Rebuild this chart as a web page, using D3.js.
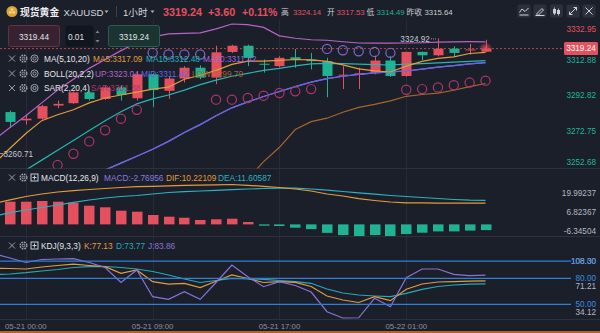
<!DOCTYPE html>
<html>
<head>
<meta charset="utf-8">
<title>现货黄金 XAUUSD 1小时</title>
<script src="https://cdn.jsdelivr.net/npm/d3@7/dist/d3.min.js"></script>
<style>
  html, body { margin: 0; padding: 0; background: #1b1f2a; overflow: hidden; }
  svg { display: block; font-family: "Liberation Sans", Arial, "Noto Sans CJK SC", sans-serif; }
</style>
</head>
<body>
<svg id="chart" width="600" height="333"></svg>
<script>
// ---------- hourly bars (first bar sits just left of the visible window) ----------
const times = ["05-20 22:00","05-20 23:00","05-21 00:00","05-21 01:00","05-21 02:00","05-21 03:00","05-21 04:00",
  "05-21 06:00","05-21 07:00","05-21 08:00","05-21 09:00","05-21 10:00","05-21 11:00","05-21 12:00","05-21 13:00",
  "05-21 14:00","05-21 15:00","05-21 16:00","05-21 17:00","05-21 18:00","05-21 19:00","05-21 20:00","05-21 21:00",
  "05-21 22:00","05-21 23:00","05-22 00:00","05-22 01:00","05-22 02:00","05-22 03:00","05-22 04:00","05-22 06:00","05-22 07:00"];
const open  = [3268.00,3283.86,3279.25,3280.18,3287.49,3288.81,3294.85,3291.17,3297.60,3291.56,3304.91,3295.73,3302.55,3308.59,3303.09,3317.38,3320.84,3310.79,3309.47,3314.41,3313.15,3312.22,3304.36,3304.52,3305.84,3312.60,3303.97,3317.38,3315.51,3319.19,3318.48,3317.53];
const high  = [3285.20,3284.74,3282.38,3287.87,3290.24,3295.29,3295.73,3298.48,3298.48,3305.84,3305.46,3303.64,3309.47,3309.85,3320.84,3321.39,3321.39,3313.15,3314.96,3319.03,3316.83,3314.08,3309.47,3308.59,3315.35,3314.96,3317.60,3317.55,3324.92,3320.46,3321.94,3324.14];
const low   = [3260.71,3275.07,3276.89,3279.63,3286.06,3288.42,3290.24,3290.62,3290.24,3290.24,3286.61,3291.17,3300.35,3302.16,3299.41,3316.83,3309.47,3305.84,3308.75,3308.59,3307.66,3292.11,3296.67,3296.67,3304.91,3303.50,3303.64,3312.77,3314.96,3314.63,3315.90,3317.20];
const close = [3283.90,3278.37,3280.18,3287.16,3288.42,3294.85,3291.17,3297.60,3293.37,3304.91,3296.12,3302.55,3308.59,3303.09,3317.16,3320.84,3314.08,3310.24,3314.08,3313.15,3312.22,3303.97,3304.69,3305.46,3312.60,3303.97,3317.38,3315.51,3319.19,3316.83,3318.75,3319.24];

// ---------- overlays ----------
const ma5   = [3255.20,3263.67,3271.92,3279.07,3282.37,3285.12,3288.97,3291.72,3293.37,3295.02,3296.67,3297.77,3302.17,3304.37,3307.12,3310.42,3312.24,3312.24,3312.62,3313.17,3312.90,3312.07,3310.15,3307.95,3306.85,3306.19,3309.49,3312.07,3313.80,3314.60,3316.50,3317.09];
const ma10  = [3237.20,3244.42,3251.57,3257.07,3262.57,3268.07,3273.57,3279.07,3284.02,3288.42,3291.17,3293.37,3296.12,3299.15,3301.62,3303.82,3305.47,3307.12,3308.22,3309.60,3310.70,3311.00,3310.90,3310.60,3310.30,3310.10,3310.60,3310.90,3311.30,3311.70,3312.10,3312.48];
const bollMid = [3224.60,3228.47,3232.32,3236.17,3240.02,3243.87,3247.72,3251.57,3255.42,3259.27,3263.12,3267.52,3272.47,3276.87,3281.82,3286.22,3289.52,3292.54,3295.30,3298.05,3300.52,3302.45,3303.82,3304.92,3305.75,3306.30,3306.74,3307.80,3308.90,3309.80,3310.70,3311.42];
const bollUp  = [3268.50,3275.22,3281.82,3288.97,3296.12,3302.17,3308.22,3313.17,3318.12,3322.52,3325.82,3327.47,3327.75,3328.02,3330.22,3332.95,3332.60,3331.05,3326.37,3325.00,3324.17,3323.90,3323.07,3322.36,3322.25,3322.25,3322.36,3322.50,3322.80,3323.00,3323.10,3323.04];
const bollLow = [3180.70,3181.72,3182.82,3183.37,3183.92,3185.57,3187.22,3189.97,3192.72,3196.02,3200.42,3207.57,3217.19,3225.72,3233.42,3239.47,3246.50,3256.24,3264.22,3274.12,3278.52,3280.44,3283.74,3286.49,3288.14,3290.07,3292.65,3293.65,3294.47,3296.00,3298.00,3299.79];
const sar     = [3226.20,3233.42,3240.57,3247.72,3254.32,3260.64,3267.52,3273.73,3280.17,3285.12,3316.86,3315.92,3315.92,3315.92,3290.78,3290.78,3291.72,3292.99,3294.47,3295.41,3296.67,3319.06,3318.29,3317.74,3317.41,3316.86,3296.29,3296.67,3297.61,3298.80,3300.30,3301.38];

// ---------- MACD(12,26,9) ----------
const dif  = [10.10,11.80,13.47,14.68,15.64,16.27,16.85,17.34,17.82,18.21,18.40,18.64,18.83,18.98,19.12,19.27,18.88,18.40,17.82,17.09,16.13,14.68,13.71,12.41,11.54,10.81,10.42,10.34,10.30,10.27,10.24,10.22109];
const dea  = [3.90,5.64,6.95,8.15,9.36,10.67,11.78,12.74,13.47,13.95,14.68,15.40,15.79,16.13,16.47,16.80,17.09,17.34,17.48,17.48,17.09,16.51,15.89,15.26,14.58,13.95,13.47,12.99,12.50,12.02,11.68,11.60587];
const macd = [12.00,10.96,10.96,11.29,10.96,10.47,9.02,8.25,6.61,6.12,4.53,3.71,3.22,2.11,2.45,2.74,1.15,-0.64,-0.79,-1.61,-2.30,-4.10,-5.14,-5.80,-5.14,-6.00,-4.66,-4.03,-3.40,-3.40,-3.00,-2.76956];

// ---------- KDJ(9,3,3) ----------
const kLine = [91.72,91.49,90.91,93.23,94.97,96.47,94.97,93.58,85.93,89.75,76.19,73.29,74.34,69.47,76.66,83.96,79.90,75.26,76.19,75.50,70.63,59.62,54.98,52.08,58.81,54.17,67.38,73.53,75.84,76.19,76.77,77.13];
const dLine = [84.54,85.12,86.62,88.59,90.33,92.65,93.58,93.81,92.65,90.91,88.01,83.96,79.32,75.26,77.58,80.13,79.55,78.97,77.58,76.19,74.34,67.73,63.10,60.78,59.62,58.81,62.75,67.38,70.63,72.37,73.29,73.77];
const jLine = [108.30,103.66,98.44,101.92,102.50,102.85,98.44,92.65,75.26,89.75,58.81,55.79,64.60,55.79,75.26,95.55,81.99,70.40,76.19,71.79,64.25,41.42,34.12,34.40,56.95,47.22,80.83,90.91,90.91,84.77,83.15,83.86];

// ---------- axis values ----------
const priceTicks = [3332.95, 3312.88, 3292.82, 3272.75, 3252.68];
const macdTicks  = [19.99237, 6.82367, -6.34504];
const kdjTicks   = [108.30, 71.21, 34.12];
const kdjLevels  = [100, 80, 50];
const timeTicks  = ["05-21 00:00", "05-21 09:00", "05-21 17:00", "05-22 01:00"];

// ---------- quote header ----------
const quoteName = "现货黄金", quoteSymbol = "XAUUSD", quotePeriod = "1小时";
const quoteChange = "+3.60", quotePct = "+0.11%";
const dayHigh = 3324.14, dayOpen = 3317.53, dayLow = 3314.49, prevClose = 3315.64;
const askPrice = 3319.44, bidPrice = 3319.24, lotSize = "0.01";

// ---------- drawing ----------
const C = {
  bg: "#1b1f2a", up: "#e5505e", down: "#1fb394",
  ma5: "#e39b3d", ma10: "#27b4b2", ma20: "#9a6cd9",
  bUp: "#b863c6", bMid: "#6366e3", bLow: "#a5652c",
  sarBelow: "#b0356b", sarAbove: "#7c68d0",
  dif: "#e39b3d", dea: "#2cb2c0", macdTxt: "#8c77e0",
  k: "#e39b3d", d: "#22aabb", j: "#8a72d8", level: "#2f7fd4", levelTxt: "#3d8be0",
  grid: "#262b37", sep: "#2c313d", text: "#d3d6dc", muted: "#9aa0ab"
};
const last = close.length - 1;
const svg = d3.select("#chart");
svg.append("rect").attr("width", 600).attr("height", 333).attr("fill", C.bg);

const idx = d3.range(times.length);
const x = d3.scaleLinear().domain([0, times.length - 1]).range([-5.85, 485.5]);
const yMain = d3.scaleLinear().domain([priceTicks[4], priceTicks[0]]).range([168, 24]);
const yMacd = d3.scaleLinear().domain([macdTicks[2], macdTicks[0]]).range([237.5, 183]);
const yKdj  = d3.scaleLinear().domain([kdjTicks[2], kdjTicks[0]]).range([318, 254]);
const macdLabelY = d3.scaleLinear().domain([macdTicks[2], macdTicks[0]]).range([231, 193]);
const kdjLabelY  = d3.scaleLinear().domain([kdjTicks[2], kdjTicks[0]]).range([312.5, 261]);

const panels = { main: [20, 168.5], macd: [169, 236], kdj: [237, 319] };
const defs = svg.append("defs");
Object.entries(panels).forEach(([name, [t, b]]) => {
  defs.append("clipPath").attr("id", "clip-" + name)
    .append("rect").attr("x", 0).attr("y", t).attr("width", 566).attr("height", b - t);
});
const glow = defs.append("radialGradient").attr("id", "glow");
glow.append("stop").attr("offset", "0%").attr("stop-color", C.up).attr("stop-opacity", 0.85);
glow.append("stop").attr("offset", "100%").attr("stop-color", C.up).attr("stop-opacity", 0);

// vertical time grid
const tickIdx = timeTicks.map(t => times.indexOf(t));
Object.values(panels).forEach(([t, b]) => {
  svg.append("g").selectAll("line").data(tickIdx).join("line")
    .attr("x1", i => Math.round(x(i)) + 0.5).attr("x2", i => Math.round(x(i)) + 0.5)
    .attr("y1", t).attr("y2", b).attr("stroke", C.grid).attr("stroke-width", 1);
});
// panel separators
[168.5, 236.5, 319.5].forEach(y => svg.append("line").attr("x1", 0).attr("x2", 600)
  .attr("y1", y).attr("y2", y).attr("stroke", C.sep).attr("stroke-width", 1));

// ===== main panel =====
const gMain = svg.append("g").attr("clip-path", "url(#clip-main)");
const isUp = i => close[i] >= open[i];
gMain.selectAll("line.wick").data(idx).join("line").attr("class", "wick")
  .attr("x1", i => Math.round(x(i)) + 0.5).attr("x2", i => Math.round(x(i)) + 0.5)
  .attr("y1", i => yMain(high[i])).attr("y2", i => yMain(low[i]))
  .attr("stroke", i => isUp(i) ? C.up : C.down).attr("stroke-width", 1);
gMain.selectAll("rect.body").data(idx).join("rect").attr("class", "body")
  .attr("x", i => Math.round(x(i)) - 4.5).attr("width", 10)
  .attr("y", i => yMain(Math.max(open[i], close[i])))
  .attr("height", i => Math.max(1, Math.abs(yMain(open[i]) - yMain(close[i]))))
  .attr("fill", i => isUp(i) ? C.up : C.down);

const lineMain = d3.line().x((d, i) => x(i)).y(d => yMain(d));
[[bollLow, C.bLow], [bollUp, C.bUp], [bollMid, C.ma20], [bollMid, C.bMid], [ma10, C.ma10], [ma5, C.ma5]]
  .forEach(([s, col]) => gMain.append("path").datum(s).attr("d", lineMain)
    .attr("fill", "none").attr("stroke", col).attr("stroke-width", 1.2));

gMain.selectAll("circle.sar").data(idx).join("circle").attr("class", "sar")
  .attr("cx", i => x(i)).attr("cy", i => yMain(sar[i])).attr("r", 4.6)
  .attr("fill", "none").attr("stroke-width", 1.2)
  .attr("stroke", i => sar[i] > close[i] ? C.sarAbove : C.sarBelow);

// last bar glow
gMain.append("ellipse").attr("cx", x(last)).attr("cy", yMain(close[last]) - 1)
  .attr("rx", 7).attr("ry", 5).attr("fill", "url(#glow)");

// current price line
svg.append("line").attr("x1", 0).attr("x2", 564)
  .attr("y1", yMain(close[last])).attr("y2", yMain(close[last]))
  .attr("stroke", C.up).attr("stroke-dasharray", "2,2").attr("stroke-opacity", 0.75);

function label(g, tx, ty, s, o = {}) {
  return g.append("text").attr("x", tx).attr("y", ty).text(s)
    .attr("fill", o.fill || C.text).attr("font-size", o.size || 8.3)
    .attr("font-weight", o.weight || "normal").attr("text-anchor", o.anchor || "start")
    .attr("dominant-baseline", "central");
}
const gTxt = svg.append("g");

// max / min marks
const hiIdx = d3.maxIndex(high), loIdx = d3.minIndex(low);
svg.append("line").attr("x1", x(hiIdx) - 7).attr("x2", x(hiIdx) - 1)
  .attr("y1", yMain(high[hiIdx]) + 0.5).attr("y2", yMain(high[hiIdx]) + 0.5)
  .attr("stroke", "#9aa0ab").attr("stroke-dasharray", "1,1");
label(gTxt, x(hiIdx) - 8, yMain(high[hiIdx]) + 1.5, high[hiIdx].toFixed(2), { fill: "#c3c7cf", size: 8.2, anchor: "end" });
svg.append("line").attr("x1", 0).attr("x2", 3)
  .attr("y1", yMain(low[loIdx])).attr("y2", yMain(low[loIdx])).attr("stroke", "#9aa0ab");
label(gTxt, 3.5, yMain(low[loIdx]) + 0.5, low[loIdx].toFixed(2), { fill: "#c3c7cf", size: 8.2 });

// price axis
priceTicks.forEach(v => {
  const ty = Math.min(162.5, Math.max(29.5, yMain(v)));
  label(gTxt, 596, ty, v.toFixed(2), { fill: v > prevClose ? C.up : C.down, size: 8.2, anchor: "end" });
});
svg.append("rect").attr("x", 564).attr("y", yMain(close[last]) - 6.5).attr("width", 34).attr("height", 13)
  .attr("rx", 1.5).attr("fill", C.up);
label(gTxt.raise(), 581, yMain(close[last]), close[last].toFixed(2), { fill: "#ffffff", size: 8.2, anchor: "middle" });

// ===== MACD panel =====
const gMacd = svg.append("g").attr("clip-path", "url(#clip-macd)");
gMacd.selectAll("rect").data(idx).join("rect")
  .attr("x", i => Math.round(x(i)) - 5).attr("width", 10.5)
  .attr("y", i => yMacd(Math.max(0, macd[i])))
  .attr("height", i => Math.max(1, Math.abs(yMacd(macd[i]) - yMacd(0))))
  .attr("fill", i => macd[i] >= 0 ? C.up : C.down);
const lineMacd = d3.line().x((d, i) => x(i)).y(d => yMacd(d));
[[dea, C.dea], [dif, C.dif]].forEach(([s, col]) => gMacd.append("path").datum(s).attr("d", lineMacd)
  .attr("fill", "none").attr("stroke", col).attr("stroke-width", 1.2));
macdTicks.forEach(v => label(gTxt, 596, macdLabelY(v), v.toFixed(5), { fill: "#b4b8c1", size: 8.2, anchor: "end" }));

// ===== KDJ panel =====
const gKdj = svg.append("g").attr("clip-path", "url(#clip-kdj)");
kdjLevels.forEach(v => svg.append("line").attr("x1", 0).attr("x2", 571)
  .attr("y1", yKdj(v)).attr("y2", yKdj(v)).attr("stroke", C.level).attr("stroke-width", 1.2));
const lineKdj = d3.line().x((d, i) => x(i)).y(d => yKdj(d));
[[dLine, C.d], [kLine, C.k], [jLine, C.j]].forEach(([s, col]) => gKdj.append("path").datum(s).attr("d", lineKdj)
  .attr("fill", "none").attr("stroke", col).attr("stroke-width", 1.2));
kdjTicks.forEach(v => label(gTxt, 596, kdjLabelY(v), v.toFixed(2), { fill: "#b4b8c1", size: 8.2, anchor: "end" }));
kdjLevels.forEach(v => label(gTxt, 596, yKdj(v), v.toFixed(2), { fill: C.levelTxt, size: 8.2, anchor: "end" }));

// time axis
tickIdx.forEach((i, k) => label(gTxt, x(i), 326, timeTicks[k], { fill: "#8c919c", size: 7.8, anchor: "middle" }));
svg.append("rect").attr("x", 0).attr("y", 331).attr("width", 600).attr("height", 2).attr("fill", "#b4622c");

// ===== legends =====
const gLeg = svg.append("g");
function xIcon(cx, cy) {
  gLeg.append("path").attr("d", `M${cx-3},${cy-3}L${cx+3},${cy+3}M${cx+3},${cy-3}L${cx-3},${cy+3}`)
    .attr("stroke", C.muted).attr("stroke-width", 1);
}
function gearIcon(cx, cy) {
  gLeg.append("circle").attr("cx", cx).attr("cy", cy).attr("r", 3.3).attr("fill", "none")
    .attr("stroke", C.muted).attr("stroke-width", 1.5).attr("stroke-dasharray", "1.7,0.9");
  gLeg.append("circle").attr("cx", cx).attr("cy", cy).attr("r", 1.3).attr("fill", "none").attr("stroke", C.muted);
}
function eyeIcon(cx, cy) {
  gLeg.append("circle").attr("cx", cx).attr("cy", cy).attr("r", 3.6).attr("fill", "none").attr("stroke", C.muted);
  gLeg.append("circle").attr("cx", cx).attr("cy", cy).attr("r", 1.6).attr("fill", "none").attr("stroke", C.muted);
}
function boxIcon(cx, cy) {
  gLeg.append("rect").attr("x", cx - 3.5).attr("y", cy - 3.5).attr("width", 7).attr("height", 7)
    .attr("fill", "none").attr("stroke", "#c9ccd3");
  gLeg.append("path").attr("d", `M${cx-2},${cy}H${cx+2}M${cx},${cy-2}V${cy+2}`).attr("stroke", "#c9ccd3");
}
function legendRow(cy, third, items) {
  xIcon(12, cy); gearIcon(23.5, cy); third(34.5, cy);
  items.forEach(([tx, s, col]) => label(gLeg, tx, cy, s, { fill: col, size: 8.3 }));
}
legendRow(58.5, eyeIcon, [[44, "MA(5,10,20)", "#e4e6ea"], [93, `MA5:${ma5[last].toFixed(2)}`, C.ma5],
  [146, `MA10:${ma10[last].toFixed(2)}`, C.ma10], [203, `MA20:${bollMid[last].toFixed(2)}`, C.ma20]]);
legendRow(73.5, eyeIcon, [[44, "BOLL(20,2,2)", "#e4e6ea"], [95, `UP:${bollUp[last].toFixed(2)}`, C.bUp],
  [141, `MID:${bollMid[last].toFixed(2)}`, C.bMid], [192, `LOW:${bollLow[last].toFixed(2)}`, C.bLow]]);
legendRow(88, eyeIcon, [[44, "SAR(2,20,4)", "#e4e6ea"], [91, `SAR:${sar[last].toFixed(2)}`, C.sarBelow]]);
legendRow(177.5, boxIcon, [[41, "MACD(12,26,9)", "#e4e6ea"], [104, `MACD:${macd[last].toFixed(5)}`, C.macdTxt],
  [166, `DIF:${dif[last].toFixed(5)}`, C.dif], [218, `DEA:${dea[last].toFixed(5)}`, C.dea]]);
legendRow(245.5, boxIcon, [[41, "KDJ(9,3,3)", "#e4e6ea"], [84, `K:${kLine[last].toFixed(2)}`, C.k],
  [116, `D:${dLine[last].toFixed(2)}`, C.d], [148, `J:${jLine[last].toFixed(2)}`, C.j]]);

// trade boxes
const gBox = svg.append("g");
gBox.append("rect").attr("x", 8.5).attr("y", 25.5).attr("width", 51).attr("height", 21).attr("rx", 2)
  .attr("fill", "#362230").attr("stroke", "#6a2f3e");
label(gBox, 34, 36.5, askPrice.toFixed(2), { fill: "#e2e3e7", size: 8.3, anchor: "middle" });
gBox.append("rect").attr("x", 65.5).attr("y", 25.5).attr("width", 28).attr("height", 21).attr("rx", 2)
  .attr("fill", "#11151d");
label(gBox, 76, 36.5, lotSize, { fill: "#e2e3e7", size: 8.3, anchor: "middle" });
gBox.append("path").attr("d", "M95.5,33L97.5,30.5L99.5,33Z M95.5,40L97.5,42.5L99.5,40Z").attr("fill", "#7d828d");
gBox.append("rect").attr("x", 108.5).attr("y", 25.5).attr("width", 51).attr("height", 21).attr("rx", 2)
  .attr("fill", "#1b3432").attr("stroke", "#275e54");
label(gBox, 134, 36.5, bidPrice.toFixed(2), { fill: "#e2e3e7", size: 8.3, anchor: "middle" });

// ===== header =====
const gHead = svg.append("g");
gHead.append("circle").attr("cx", 12).attr("cy", 11.5).attr("r", 5.5).attr("fill", "#dca437");
gHead.append("path").attr("d", "M9,13.5h2.6v-2.2h-2.6Z M12.4,13.5h2.6v-2.2h-2.6Z M10.7,10.6h2.6v-2.2h-2.6Z").attr("fill", "#f6dc8c");
label(gHead, 20, 12, quoteName, { fill: "#eceef1", size: 9.8, weight: "bold" });
label(gHead, 63.5, 12, quoteSymbol, { fill: "#d5d8de", size: 9.6 });
gHead.append("path").attr("d", "M104.5,10.5h4l-2,2.5Z M150.5,10.5h4l-2,2.5Z").attr("fill", "#aeb2bb");
gHead.append("line").attr("x1", 116.5).attr("x2", 116.5).attr("y1", 6).attr("y2", 17).attr("stroke", "#3b404c");
label(gHead, 123, 12, quotePeriod, { fill: "#d5d8de", size: 9.6 });
label(gHead, 163, 12, close[last].toFixed(2), { fill: C.up, size: 10.8, weight: "bold" });
label(gHead, 208, 12, quoteChange, { fill: C.up, size: 10.8, weight: "bold" });
label(gHead, 242, 12, quotePct, { fill: C.up, size: 10.5, weight: "bold" });
const stat = { fill: "#c9ccd3", size: 7.8 };
label(gHead, 281, 12, "高", stat);
label(gHead, 293, 12, dayHigh.toFixed(2), { ...stat, fill: C.up });
label(gHead, 327, 12, "开", stat);
label(gHead, 336.5, 12, dayOpen.toFixed(2), { ...stat, fill: C.up });
label(gHead, 366.5, 12, "低", stat);
label(gHead, 376.5, 12, dayLow.toFixed(2), { ...stat, fill: C.down });
label(gHead, 406.5, 12, "昨收", stat);
label(gHead, 424.5, 12, prevClose.toFixed(2), stat);

// toolbar buttons
const btnX = [524, 540, 556.5, 573, 589];
btnX.forEach(cx => gHead.append("rect").attr("x", cx - 6.5).attr("y", 4.5).attr("width", 13).attr("height", 13)
  .attr("rx", 2).attr("fill", "#2b303c"));
const ic = "#cdd1d8";
gHead.append("path").attr("d", "M519.5,12.5L522,9L525,11.5L528.5,8 M519.5,15H528.5")
  .attr("fill", "none").attr("stroke", ic).attr("stroke-width", 1);
gHead.append("path").attr("d", "M536.5,14L542,8.5L543.5,10L538,15.5Z M535.5,15.5H544.5")
  .attr("fill", "none").attr("stroke", ic).attr("stroke-width", 1);
gHead.append("path").attr("d", "M554.5,7.5V15 M558.5,8.5V15.5").attr("stroke", ic).attr("stroke-width", 0.8);
gHead.append("rect").attr("x", 553).attr("y", 9).attr("width", 3).attr("height", 4.5).attr("fill", ic);
gHead.append("rect").attr("x", 557).attr("y", 10).attr("width", 3).attr("height", 4).attr("fill", ic);
gHead.append("path").attr("d", "M569.5,14.5L576.5,7.5 M573.5,7.5H576.5V10.5 M569.5,11.5V14.5H572.5")
  .attr("fill", "none").attr("stroke", ic).attr("stroke-width", 1);
gHead.append("path").attr("d", "M585.5,7.5L592.5,14.5M592.5,7.5L585.5,14.5")
  .attr("fill", "none").attr("stroke", ic).attr("stroke-width", 1);
</script>
</body>
</html>
